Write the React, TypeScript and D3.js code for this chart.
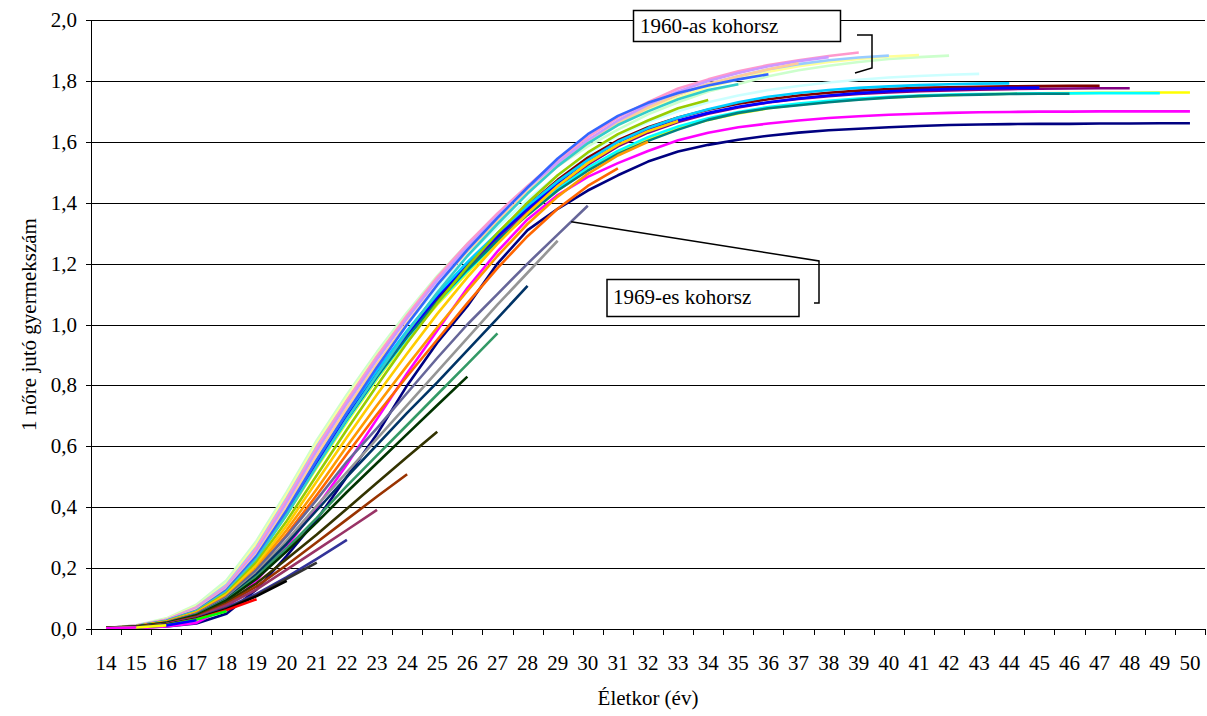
import React from 'react';
import * as d3 from 'd3';

// ---- Data -------------------------------------------------------------
const ages = [14,15,16,17,18,19,20,21,22,23,24,25,26,27,28,29,30,31,32,33,34,35,36,37,38,39,40,41,42,43,44,45,46,47,48,49,50];
const yTicks = [0, 0.2, 0.4, 0.6, 0.8, 1.0, 1.2, 1.4, 1.6, 1.8, 2.0];

// Excel default series colours, in series order
const colors = [
  '#000080','#FF00FF','#FFFF00','#00FFFF','#800080','#800000','#008080','#0000FF',
  '#00CCFF','#CCFFFF','#CCFFCC','#FFFF99','#99CCFF','#FF99CC','#CC99FF','#FFCC99',
  '#3366FF','#33CCCC','#99CC00','#FFCC00','#FF9900','#FF6600','#666699','#969696',
  '#003366','#339966','#003300','#333300','#993300','#993366','#333399','#333333',
  '#000000','#FF0000','#00FF00','#0000FF','#FFFF00','#FF00FF'
];

// Cumulative fertility by age (values start at age 14)
const s01 = [0.001,0.004,0.008,0.018,0.05,0.13,0.24,0.36,0.5,0.64,0.8,0.94,1.06,1.2,1.31,1.38,1.44,1.49,1.535,1.568,1.59,1.607,1.62,1.63,1.638,1.643,1.648,1.652,1.655,1.657,1.658,1.659,1.659,1.66,1.66,1.661,1.661];
const s02 = [0.001,0.003,0.008,0.02,0.07,0.16,0.27,0.4,0.54,0.69,0.84,0.98,1.12,1.24,1.345,1.425,1.485,1.53,1.57,1.605,1.63,1.648,1.66,1.67,1.678,1.684,1.689,1.692,1.695,1.697,1.698,1.699,1.699,1.7,1.7,1.7,1.7];
const s03 = [0.003,0.01,0.028,0.06,0.125,0.235,0.375,0.53,0.68,0.82,0.95,1.065,1.17,1.27,1.36,1.44,1.51,1.565,1.61,1.645,1.672,1.693,1.71,1.722,1.732,1.74,1.746,1.75,1.753,1.756,1.758,1.759,1.76,1.761,1.761,1.762,1.762];
const s04 = [0.003,0.01,0.028,0.062,0.127,0.238,0.38,0.535,0.685,0.825,0.955,1.07,1.175,1.275,1.365,1.445,1.515,1.57,1.615,1.65,1.677,1.698,1.714,1.726,1.735,1.742,1.748,1.752,1.755,1.757,1.758,1.759,1.759,1.76,1.76,1.76];
const s05 = [0.003,0.01,0.028,0.063,0.128,0.24,0.385,0.54,0.69,0.83,0.96,1.08,1.185,1.285,1.375,1.455,1.525,1.585,1.63,1.665,1.692,1.713,1.729,1.741,1.75,1.757,1.762,1.766,1.769,1.771,1.773,1.774,1.775,1.776,1.776];
const s06 = [0.003,0.01,0.029,0.064,0.13,0.243,0.39,0.545,0.695,0.835,0.965,1.085,1.195,1.295,1.39,1.475,1.548,1.605,1.648,1.68,1.705,1.725,1.74,1.752,1.761,1.768,1.773,1.777,1.779,1.781,1.782,1.783,1.784,1.784];
const s07 = [0.003,0.01,0.028,0.064,0.128,0.24,0.385,0.54,0.69,0.83,0.96,1.075,1.18,1.275,1.36,1.44,1.505,1.56,1.603,1.64,1.672,1.695,1.71,1.72,1.73,1.738,1.745,1.75,1.753,1.755,1.757,1.758,1.758];
const s08 = [0.003,0.01,0.029,0.066,0.132,0.245,0.392,0.548,0.7,0.84,0.97,1.09,1.195,1.29,1.38,1.465,1.54,1.6,1.64,1.67,1.695,1.715,1.73,1.742,1.752,1.76,1.766,1.77,1.773,1.775,1.777,1.778];
const s09 = [0.003,0.01,0.03,0.068,0.135,0.25,0.4,0.56,0.71,0.85,0.98,1.1,1.205,1.3,1.39,1.47,1.54,1.6,1.645,1.68,1.707,1.73,1.748,1.76,1.77,1.777,1.782,1.786,1.789,1.791,1.792];
const s10 = [0.003,0.01,0.03,0.07,0.14,0.26,0.41,0.575,0.73,0.87,1.0,1.12,1.225,1.32,1.41,1.49,1.56,1.62,1.665,1.7,1.73,1.752,1.77,1.783,1.795,1.804,1.811,1.816,1.82,1.823];
const s11 = [0.003,0.012,0.035,0.08,0.16,0.29,0.45,0.62,0.77,0.91,1.04,1.16,1.265,1.36,1.445,1.52,1.585,1.64,1.69,1.73,1.765,1.79,1.815,1.835,1.85,1.862,1.872,1.878,1.883];
const s12 = [0.003,0.011,0.032,0.075,0.15,0.28,0.44,0.61,0.76,0.9,1.03,1.155,1.26,1.36,1.45,1.53,1.6,1.655,1.705,1.745,1.78,1.805,1.83,1.848,1.862,1.872,1.88,1.885];
const s13 = [0.003,0.011,0.03,0.072,0.145,0.27,0.43,0.6,0.75,0.895,1.025,1.15,1.26,1.36,1.45,1.535,1.605,1.665,1.715,1.755,1.79,1.815,1.838,1.855,1.868,1.877,1.883];
const s14 = [0.003,0.011,0.03,0.07,0.14,0.265,0.425,0.595,0.75,0.895,1.03,1.155,1.265,1.365,1.455,1.54,1.615,1.68,1.73,1.775,1.805,1.832,1.852,1.868,1.882,1.893];
const s15 = [0.003,0.01,0.028,0.066,0.135,0.255,0.415,0.585,0.74,0.885,1.02,1.145,1.255,1.355,1.448,1.53,1.605,1.67,1.722,1.765,1.8,1.826,1.848,1.865,1.878];
const s16 = [0.003,0.01,0.027,0.063,0.13,0.245,0.4,0.57,0.725,0.87,1.005,1.13,1.24,1.34,1.435,1.52,1.595,1.66,1.712,1.755,1.79,1.815,1.838,1.858];
const s17 = [0.003,0.01,0.027,0.06,0.128,0.24,0.39,0.555,0.71,0.86,1.0,1.13,1.245,1.35,1.45,1.545,1.625,1.685,1.728,1.76,1.785,1.805,1.822];
const s18 = [0.003,0.01,0.026,0.058,0.123,0.23,0.375,0.535,0.69,0.835,0.975,1.105,1.225,1.33,1.43,1.52,1.595,1.655,1.7,1.74,1.77,1.789];
const s19 = [0.003,0.009,0.025,0.056,0.118,0.22,0.355,0.505,0.655,0.8,0.94,1.07,1.19,1.3,1.4,1.49,1.565,1.625,1.67,1.71,1.737];
const s20 = [0.003,0.009,0.024,0.054,0.113,0.21,0.34,0.485,0.63,0.77,0.905,1.035,1.155,1.265,1.365,1.455,1.53,1.59,1.635,1.668];
const s21 = [0.003,0.009,0.023,0.052,0.108,0.2,0.325,0.46,0.6,0.735,0.865,0.99,1.11,1.225,1.33,1.42,1.495,1.555,1.6];
const s22 = [0.003,0.008,0.022,0.05,0.103,0.19,0.31,0.44,0.575,0.705,0.83,0.95,1.07,1.185,1.29,1.38,1.455,1.513];
const s23 = [0.003,0.008,0.021,0.05,0.105,0.195,0.305,0.425,0.55,0.66,0.775,0.89,1.0,1.1,1.2,1.295,1.39];
const s24 = [0.003,0.008,0.02,0.048,0.1,0.185,0.29,0.405,0.515,0.625,0.735,0.845,0.955,1.065,1.17,1.275];
const s25 = [0.003,0.008,0.02,0.047,0.098,0.18,0.28,0.39,0.5,0.605,0.71,0.81,0.915,1.02,1.127];
const s26 = [0.003,0.008,0.02,0.046,0.096,0.172,0.265,0.365,0.47,0.57,0.67,0.77,0.87,0.971];
const s27 = [0.003,0.008,0.02,0.045,0.094,0.165,0.255,0.35,0.45,0.545,0.64,0.735,0.829];
const s28 = [0.003,0.007,0.018,0.042,0.088,0.15,0.23,0.31,0.395,0.48,0.565,0.648];
const s29 = [0.003,0.007,0.017,0.04,0.083,0.14,0.21,0.285,0.36,0.435,0.508];
const s30 = [0.002,0.006,0.016,0.038,0.078,0.13,0.195,0.26,0.325,0.391];
const s31 = [0.002,0.006,0.015,0.035,0.07,0.115,0.17,0.23,0.293];
const s32 = [0.002,0.006,0.014,0.034,0.067,0.11,0.165,0.218];
const s33 = [0.002,0.006,0.014,0.033,0.065,0.108,0.158];
const s34 = [0.002,0.005,0.013,0.032,0.062,0.098];
const s35 = [0.002,0.005,0.013,0.031,0.058];
const s36 = [0.002,0.005,0.012,0.029];
const s37 = [0.002,0.005,0.012];
const s38 = [0.002,0.005];

const seriesValues = [s01,s02,s03,s04,s05,s06,s07,s08,s09,s10,s11,s12,s13,s14,s15,s16,s17,s18,s19,s20,s21,s22,s23,s24,s25,s26,s27,s28,s29,s30,s31,s32,s33,s34,s35,s36,s37,s38];

const xTitle = 'Életkor (év)';
const yTitle = '1 nőre jutó gyermekszám';
const note1960 = '1960-as kohorsz';
const note1969 = '1969-es kohorsz';

// ---- Component --------------------------------------------------------
export default function App() {
  const W = 1207, H = 716;
  const left = 91, right = 1205, top = 20, bottom = 629;
  const font = 'Liberation Serif, DejaVu Serif, Times New Roman, Times, serif';
  const fs = 21;

  const x = d3.scalePoint<number>().domain(ages).range([left, right]).padding(0.5);
  const y = d3.scaleLinear().domain([0, 2]).range([bottom, top]);
  const step = x.step();
  const fmt = (v: number) => d3.format('.1f')(v).replace('.', ',');

  const line = d3.line<number>()
    .x((_, i) => x(ages[i]) as number)
    .y(d => y(d));

  const boundaries = d3.range(ages.length + 1).map(i => left + i * step);

  // leader anchor on the 1969 cohort line (age ~29.45)
  const ax = (x(29) as number) + 0.45 * step;
  const ay = y(s23[15] + 0.45 * (s23[16] - s23[15]));

  const T = (props: any) => (
    <text fontFamily={font} fontSize={fs} fill="#000" {...props} />
  );

  return (
    <svg width={W} height={H} style={{ position: 'absolute', left: 0, top: 0, background: '#fff' }}>
      <rect x={0} y={0} width={W} height={H} fill="#fff" />
      {/* gridlines */}
      {yTicks.map(t => (
        <line key={'g' + t} x1={left} x2={right} y1={Math.round(y(t)) + 0.5} y2={Math.round(y(t)) + 0.5}
          stroke="#000" strokeWidth={1} />
      ))}
      {/* series */}
      {seriesValues.map((vals, i) => (
        <path key={'s' + i} d={line(vals) || ''} fill="none" stroke={colors[i]} strokeWidth={2.6}
          strokeLinejoin="round" strokeLinecap="butt" />
      ))}
      {/* axes */}
      <line x1={left + 0.5} x2={left + 0.5} y1={top} y2={bottom + 0.5} stroke="#000" strokeWidth={1} />
      <line x1={left} x2={right} y1={bottom + 0.5} y2={bottom + 0.5} stroke="#000" strokeWidth={1} />
      {yTicks.map(t => (
        <line key={'yt' + t} x1={left - 5} x2={left} y1={Math.round(y(t)) + 0.5} y2={Math.round(y(t)) + 0.5}
          stroke="#000" strokeWidth={1} />
      ))}
      {boundaries.map((bx, i) => (
        <line key={'xt' + i} x1={Math.round(bx) + 0.5} x2={Math.round(bx) + 0.5} y1={bottom} y2={bottom + 6}
          stroke="#000" strokeWidth={1} />
      ))}
      {yTicks.map(t => (
        <T key={'yl' + t} x={left - 14} y={y(t) + 7} textAnchor="end">{fmt(t)}</T>
      ))}
      {ages.map(a => (
        <T key={'xl' + a} x={x(a)} y={670} textAnchor="middle">{a}</T>
      ))}
      <T x={(left + right) / 2} y={705} textAnchor="middle">{xTitle}</T>
      <T transform={`translate(36, ${(top + bottom) / 2}) rotate(-90)`} textAnchor="middle">{yTitle}</T>

      {/* annotation: 1960 cohort */}
      <rect x={633.5} y={10.5} width={207} height={31} fill="#fff" stroke="#000" strokeWidth={1.5} />
      <T x={640} y={33}>{note1960}</T>
      <polyline points="857,35 872,35 872,68 855,73" fill="none" stroke="#000" strokeWidth={1.5} />

      {/* annotation: 1969 cohort */}
      <polyline points={`${ax},${ay} 819,261 819,303 814,303`} fill="none" stroke="#000" strokeWidth={1.5} />
      <rect x={607} y={279.5} width={192} height={37} fill="#fff" stroke="#000" strokeWidth={1.5} />
      <T x={613} y={304}>{note1969}</T>
    </svg>
  );
}
